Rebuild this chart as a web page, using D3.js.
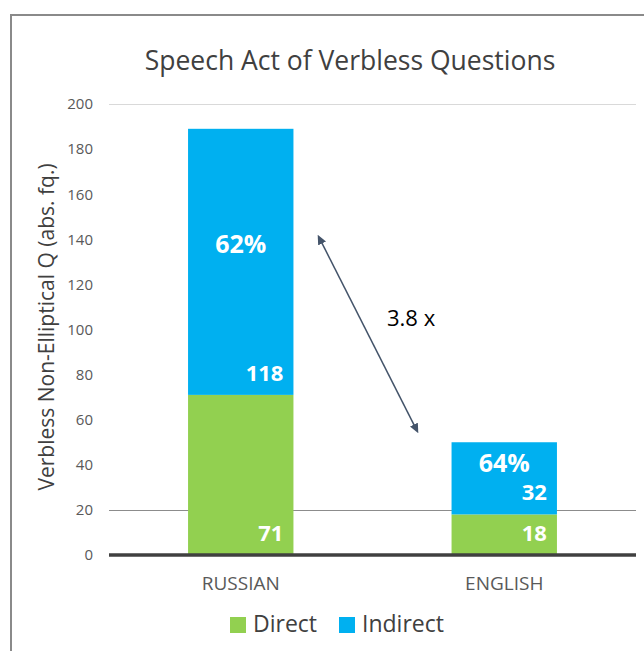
<!DOCTYPE html>
<html>
<head>
<meta charset="utf-8">
<script src="https://cdn.jsdelivr.net/npm/d3@7"></script>
<style>
  body { margin: 0; background: #fff; }
  svg text { font-family: "Open Sans", sans-serif; }
</style>
</head>
<body>
<script>
var categories = ["RUSSIAN", "ENGLISH"];
var seriesNames = ["Direct", "Indirect"];
var direct = [71, 18];
var indirect = [118, 32];
var percentLabels = ["62%", "64%"];
var percentAt = [134, 37];        // y value of the percent text boxes
var yTicks = [0, 20, 40, 60, 80, 100, 120, 140, 160, 180, 200];
var arrowFrom = 140.5, arrowTo = 55.5;   // arrow ends, in y units
var ratioText = "3.8 x";
var colors = ["#92d050", "#00b0f0"];

var width = 644, height = 651;
var margin = {top: 104, right: 8, bottom: 96, left: 109};

var svg = d3.select("body").append("svg")
            .attr("width", width).attr("height", height);

// outer frame
svg.append("rect")
   .attr("x", 11).attr("y", 15)
   .attr("width", 700).attr("height", 700)
   .attr("fill", "none")
   .attr("stroke", "#8a8a8a")
   .attr("stroke-width", 2);

var x = d3.scaleBand().domain(categories)
          .range([margin.left, width - margin.right])
          .paddingInner(0.6).paddingOuter(0.3);
var y = d3.scaleLinear().domain([0, 200])
          .range([height - margin.bottom, margin.top]);

var g = svg.append("g");

// top grid line and the line at 20
g.append("line")
 .attr("x1", margin.left).attr("x2", width - margin.right)
 .attr("y1", y(200) + 0.5).attr("y2", y(200) + 0.5)
 .attr("stroke", "#d9d9d9");
g.append("line")
 .attr("x1", margin.left).attr("x2", width - margin.right)
 .attr("y1", Math.round(y(20)) + 0.5).attr("y2", Math.round(y(20)) + 0.5)
 .attr("stroke", "#8c8c8c");

// y tick labels
var yAxis = d3.axisLeft(y).tickValues(yTicks).tickSize(0).tickPadding(16);
var ya = g.append("g").attr("transform", "translate(" + margin.left + ",0)").call(yAxis);
ya.select(".domain").remove();
ya.selectAll("text").attr("font-size", 15).attr("fill", "#595959")
  .style("font-family", "'Open Sans', sans-serif");

// stacked bars
var stackData = categories.map(function (c, i) {
    return {cat: c, Direct: direct[i], Indirect: indirect[i]};
});
var stacked = d3.stack().keys(seriesNames)(stackData);

var layers = g.selectAll(".layer").data(stacked).enter().append("g")
              .attr("fill", function (d, i) { return colors[i]; });
layers.selectAll("rect").data(function (d) { return d; }).enter().append("rect")
      .attr("x", function (d) { return x(d.data.cat); })
      .attr("width", x.bandwidth())
      .attr("y", function (d) { return y(d[1]); })
      .attr("height", function (d) { return y(d[0]) - y(d[1]); });

// value labels, right aligned near the base of each segment
layers.selectAll("text").data(function (d) {
        return d.map(function (p) { return {p: p, v: p[1] - p[0]}; });
      }).enter().append("text")
      .attr("x", function (d) { return x(d.p.data.cat) + x.bandwidth() - 10; })
      .attr("y", function (d) { return y(d.p[0]) - 14; })
      .attr("text-anchor", "end")
      .attr("font-size", 22).attr("font-weight", "bold")
      .attr("fill", "#fff")
      .text(function (d) { return d.v; });

// percent labels
g.selectAll(".pct").data(categories).enter().append("text")
 .attr("x", function (d) { return x(d) + x.bandwidth() / 2; })
 .attr("y", function (d, i) { return y(percentAt[i]); })
 .attr("text-anchor", "middle")
 .attr("font-size", 25).attr("font-weight", "bold").attr("fill", "#fff")
 .text(function (d, i) { return percentLabels[i]; });

// baseline
g.append("line")
 .attr("x1", margin.left).attr("x2", width - margin.right)
 .attr("y1", y(0)).attr("y2", y(0))
 .attr("stroke", "#404040").attr("stroke-width", 3.5);

// x labels
var xAxis = d3.axisBottom(x).tickSize(0).tickPadding(22);
var xa = g.append("g").attr("transform", "translate(0," + y(0) + ")").call(xAxis);
xa.select(".domain").remove();
xa.selectAll("text").attr("font-size", 19).attr("fill", "#595959")
  .style("font-family", "'Open Sans', sans-serif");

// ratio arrow
var defs = svg.append("defs");
["start", "end"].forEach(function (k) {
    defs.append("marker").attr("id", "arr-" + k)
        .attr("viewBox", "0 0 10 10").attr("refX", 6).attr("refY", 5)
        .attr("markerWidth", 6.5).attr("markerHeight", 6.5)
        .attr("orient", k === "start" ? "auto-start-reverse" : "auto")
        .append("path").attr("d", "M0,0.5 L10,5 L0,9.5 z").attr("fill", "#44546a");
});
var ax1 = x("RUSSIAN") + x.bandwidth() + 26;
var ax2 = x("ENGLISH") - 35;
g.append("line")
 .attr("x1", ax1).attr("y1", y(arrowFrom))
 .attr("x2", ax2).attr("y2", y(arrowTo))
 .attr("stroke", "#44546a").attr("stroke-width", 1.5)
 .attr("marker-start", "url(#arr-start)")
 .attr("marker-end", "url(#arr-end)");
g.append("text")
 .attr("x", 387).attr("y", y(101.5))
 .attr("font-size", 22).attr("fill", "#000")
 .text(ratioText);

// title
svg.append("text")
   .attr("x", 350).attr("y", 70)
   .attr("text-anchor", "middle")
   .attr("font-size", 26.5).attr("fill", "#404040")
   .text("Speech Act of Verbless Questions");

// y axis title
svg.append("text")
   .attr("transform", "translate(54,327) rotate(-90)")
   .attr("text-anchor", "middle")
   .attr("font-size", 21).attr("fill", "#404040")
   .text("Verbless Non-Elliptical Q (abs. fq.)");

// legend
var legend = svg.append("g").attr("transform", "translate(230,617)");
var legX = [0, 109];
var li = legend.selectAll("g").data(seriesNames).enter().append("g")
               .attr("transform", function (d, i) { return "translate(" + legX[i] + ",0)"; });
li.append("rect").attr("width", 16).attr("height", 16)
  .attr("fill", function (d, i) { return colors[i]; });
li.append("text").attr("x", 23).attr("y", 15)
  .attr("font-size", 23).attr("fill", "#404040")
  .text(function (d) { return d; });
</script>
</body>
</html>
